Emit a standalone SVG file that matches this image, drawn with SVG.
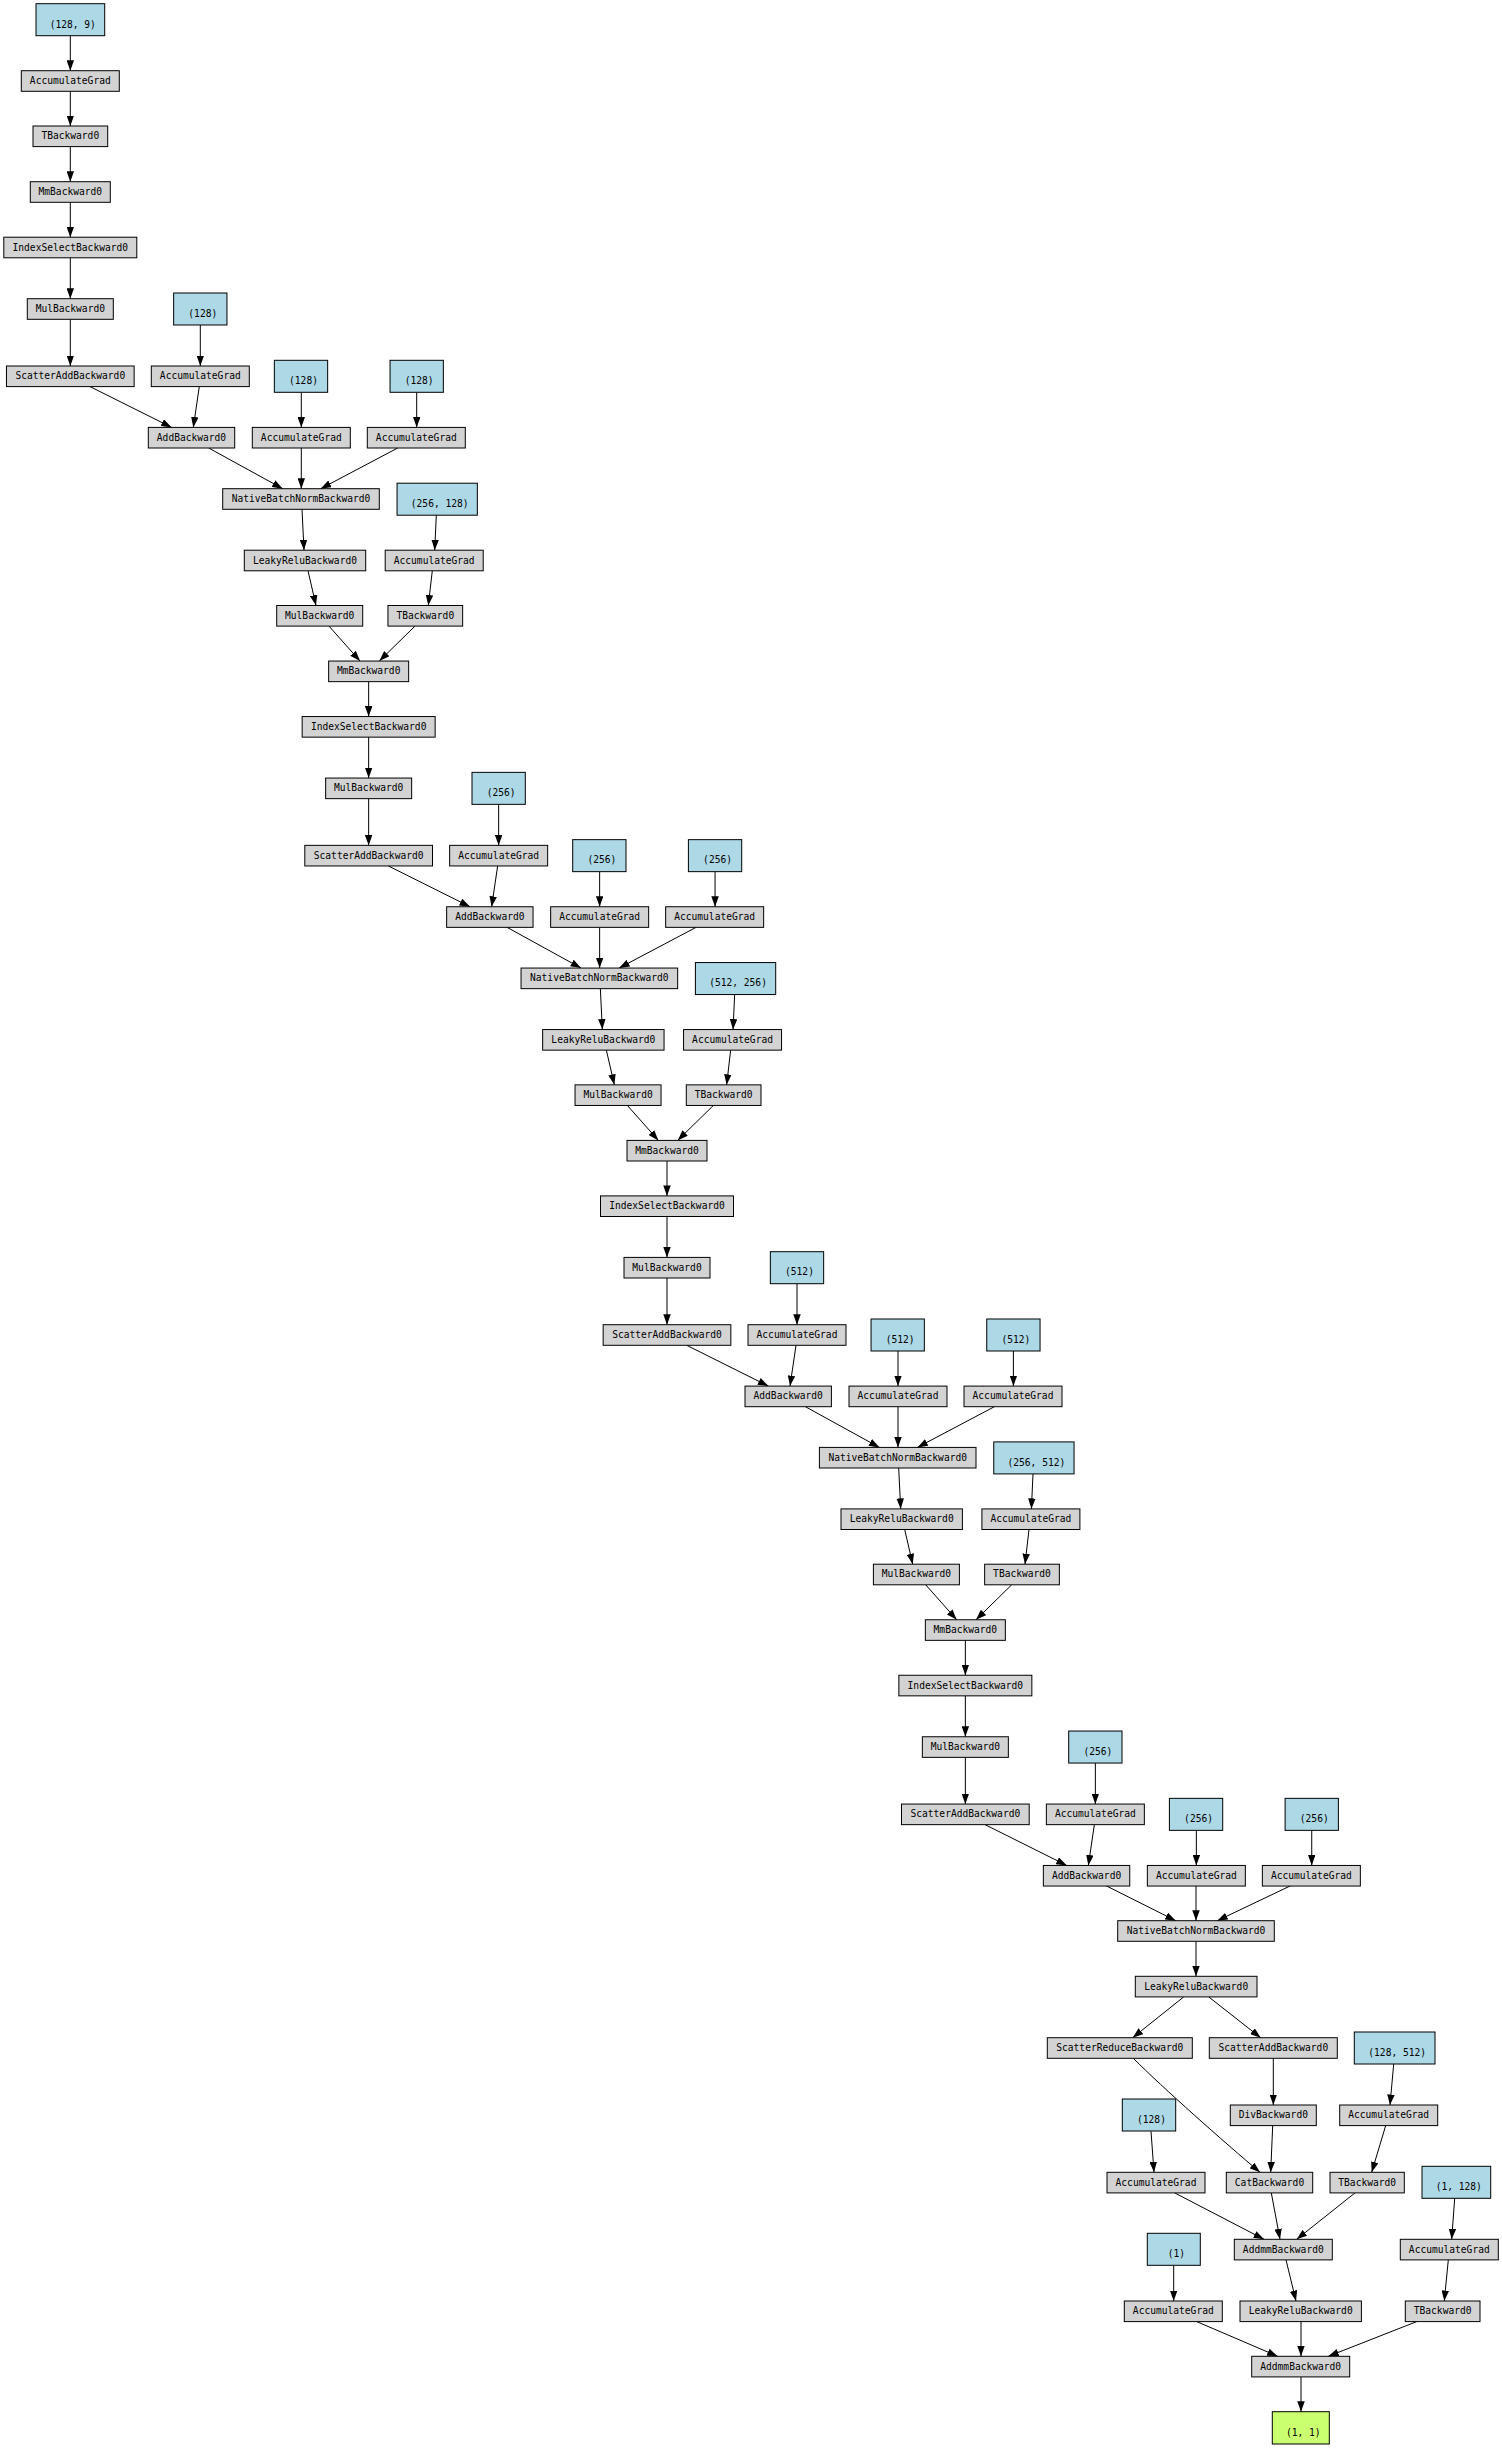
<svg xmlns="http://www.w3.org/2000/svg" width="1502" height="2448" viewBox="0 0 1502 2448">
<defs>
<marker id="a" viewBox="0 0 10.5 7.5" refX="10.5" refY="3.75" markerWidth="10.5" markerHeight="7.5" markerUnits="userSpaceOnUse" orient="auto"><path d="M0,0L10.5,3.75L0,7.5z" fill="#000"/></marker>
<style>
text{font-family:"DejaVu Sans Mono","Liberation Mono",monospace;font-size:9.6px;text-anchor:middle;fill:#000}
.n rect,.p rect,.o rect{stroke:#000;stroke-width:1}
.n rect{fill:#d3d3d3}
.p rect{fill:#add8e6}
.o rect{fill:#caff70}
#edges path{fill:none;stroke:#000;stroke-width:1;marker-end:url(#a)}
</style>
</defs>
<rect x="0" y="0" width="1502" height="2448" fill="#fff"/>

<g id="edges">
<path d="M70.3,35.7L70.3,70.7"/>
<path d="M70.3,91.3L70.3,126"/>
<path d="M70.3,146.6L70.3,181.7"/>
<g transform="translate(70.3,192)">
<path d="M0,10.3L0,45.2"/><path d="M0,65.8L0,106.7"/><path d="M0,127.3L0,174"/>
<path d="M19.7,194.6L101.4,235.4"/><path d="M130,133L130,174"/><path d="M129,194.6L123,235.4"/>
<path d="M231,200.3L231,235.4"/><path d="M346.4,200.3L346.4,235.4"/>
<path d="M138.4,256L212.4,296.7"/><path d="M231,256L231,296.7"/><path d="M327.4,256L250.4,296.7"/>
<path d="M231.7,317.3L233.7,358.2"/><path d="M366,323.2L364.4,358.2"/>
<path d="M237.7,378.8L245.7,413.5"/><path d="M362,378.8L358,413.5"/>
<path d="M258.7,434.1L289.7,469.05"/><path d="M344.7,434.1L309,469.05"/>
</g>
<g transform="translate(368.65,671.35)">
<path d="M0,10.3L0,45.2"/><path d="M0,65.8L0,106.7"/><path d="M0,127.3L0,174"/>
<path d="M19.7,194.6L101.4,235.4"/><path d="M130,133L130,174"/><path d="M129,194.6L123,235.4"/>
<path d="M231,200.3L231,235.4"/><path d="M346.4,200.3L346.4,235.4"/>
<path d="M138.4,256L212.4,296.7"/><path d="M231,256L231,296.7"/><path d="M327.4,256L250.4,296.7"/>
<path d="M231.7,317.3L233.7,358.2"/><path d="M366,323.2L364.4,358.2"/>
<path d="M237.7,378.8L245.7,413.5"/><path d="M362,378.8L358,413.5"/>
<path d="M258.7,434.1L289.7,469.05"/><path d="M344.7,434.1L309,469.05"/>
</g>
<g transform="translate(667,1150.7)">
<path d="M0,10.3L0,45.2"/><path d="M0,65.8L0,106.7"/><path d="M0,127.3L0,174"/>
<path d="M19.7,194.6L101.4,235.4"/><path d="M130,133L130,174"/><path d="M129,194.6L123,235.4"/>
<path d="M231,200.3L231,235.4"/><path d="M346.4,200.3L346.4,235.4"/>
<path d="M138.4,256L212.4,296.7"/><path d="M231,256L231,296.7"/><path d="M327.4,256L250.4,296.7"/>
<path d="M231.7,317.3L233.7,358.2"/><path d="M366,323.2L364.4,358.2"/>
<path d="M237.7,378.8L245.7,413.5"/><path d="M362,378.8L358,413.5"/>
<path d="M258.7,434.1L289.7,469.05"/><path d="M344.7,434.1L309,469.05"/>
</g>
<g transform="translate(965.35,1630.05)">
<path d="M0,10.3L0,45.2"/><path d="M0,65.8L0,106.7"/><path d="M0,127.3L0,174"/>
<path d="M19.7,194.6L101.4,235.4"/><path d="M130,133L130,174"/><path d="M129,194.6L123,235.4"/>
<path d="M231,200.3L231,235.4"/><path d="M346.4,200.3L346.4,235.4"/>
</g>
<path d="M1106,1885.7L1175.7,1920.7"/>
<path d="M1196,1885.7L1196,1920.7"/>
<path d="M1290.7,1885.7L1217.3,1920.7"/>
<path d="M1196,1941.3L1196,1976.3"/>
<path d="M1183.7,1996.9L1132.7,2037.7"/>
<path d="M1208.7,1996.9L1260.7,2037.7"/>
<path d="M1273.3,2058.3L1273.3,2105"/>
<path d="M1393.7,2064L1390,2105"/>
<path d="M1133.3,2058.3C1163,2088 1224,2142 1260,2172.3"/>
<path d="M1151,2131.3L1154,2172.3"/>
<path d="M1272.7,2125.6L1270.7,2172.3"/>
<path d="M1385.7,2125.6L1371.7,2172.3"/>
<path d="M1174.7,2192.9L1264,2239.3"/>
<path d="M1271.3,2192.9L1280,2239.3"/>
<path d="M1355,2192.9L1296.7,2239.3"/>
<path d="M1454.7,2198.3L1451.7,2239.3"/>
<path d="M1173.7,2265.3L1173.7,2301"/>
<path d="M1286,2259.9L1296,2301"/>
<path d="M1448.3,2259.9L1444.3,2301"/>
<path d="M1196.7,2321.6L1277.7,2356.3"/>
<path d="M1301,2321.6L1301,2356.3"/>
<path d="M1416.7,2321.6L1328.3,2356.3"/>
<path d="M1301,2376.9L1301,2411.7"/>
</g>

<g id="nodes">
<g id="in_w0" class="p"><rect x="36" y="3.7" width="68.7" height="32"/><text x="72.8" y="27.5">(128, 9)</text></g>
<g id="acc_w0" class="n"><rect x="21.3" y="70.7" width="98" height="20.6"/><text x="70.3" y="84">AccumulateGrad</text></g>
<g id="t_w0" class="n"><rect x="33" y="126" width="74.7" height="20.6"/><text x="70.3" y="139.3">TBackward0</text></g>

<g id="block0" transform="translate(70.3,192)">
<g id="mm0" class="n"><rect x="-40" y="-10.3" width="80" height="20.6"/><text x="0" y="3">MmBackward0</text></g>
<g id="is0" class="n"><rect x="-66.5" y="45.2" width="133" height="20.6"/><text x="0" y="58.5">IndexSelectBackward0</text></g>
<g id="mul0" class="n"><rect x="-43" y="106.7" width="86" height="20.6"/><text x="0" y="120">MulBackward0</text></g>
<g id="sa0" class="n"><rect x="-63.85" y="174" width="127.7" height="20.6"/><text x="0" y="187.3">ScatterAddBackward0</text></g>
<g id="pa0" class="p"><rect x="103.35" y="101" width="53.3" height="32"/><text x="132.5" y="124.8">(128)</text></g>
<g id="aa0" class="n"><rect x="81" y="174" width="98" height="20.6"/><text x="130" y="187.3">AccumulateGrad</text></g>
<g id="pb0" class="p"><rect x="204.05" y="168.3" width="53.3" height="32"/><text x="233.2" y="192.1">(128)</text></g>
<g id="pc0" class="p"><rect x="319.75" y="168.3" width="53.3" height="32"/><text x="348.9" y="192.1">(128)</text></g>
<g id="add0" class="n"><rect x="78" y="235.4" width="86.4" height="20.6"/><text x="121.2" y="248.7">AddBackward0</text></g>
<g id="ab0" class="n"><rect x="182" y="235.4" width="98" height="20.6"/><text x="231" y="248.7">AccumulateGrad</text></g>
<g id="ac0" class="n"><rect x="297" y="235.4" width="98" height="20.6"/><text x="346" y="248.7">AccumulateGrad</text></g>
<g id="bn0" class="n"><rect x="152.4" y="296.7" width="156.6" height="20.6"/><text x="230.7" y="310">NativeBatchNormBackward0</text></g>
<g id="pw0" class="p"><rect x="326.75" y="291.2" width="80.3" height="32"/><text x="369.4" y="315">(256, 128)</text></g>
<g id="lr0" class="n"><rect x="174" y="358.2" width="121.4" height="20.6"/><text x="234.7" y="371.5">LeakyReluBackward0</text></g>
<g id="ad0" class="n"><rect x="314.9" y="358.2" width="98" height="20.6"/><text x="363.9" y="371.5">AccumulateGrad</text></g>
<g id="mu0" class="n"><rect x="206.4" y="413.5" width="86" height="20.6"/><text x="249.4" y="426.8">MulBackward0</text></g>
<g id="tb0" class="n"><rect x="317.65" y="413.5" width="74.7" height="20.6"/><text x="355" y="426.8">TBackward0</text></g>
</g>

<g id="block1" transform="translate(368.65,671.35)">
<g id="mm1" class="n"><rect x="-40" y="-10.3" width="80" height="20.6"/><text x="0" y="3">MmBackward0</text></g>
<g id="is1" class="n"><rect x="-66.5" y="45.2" width="133" height="20.6"/><text x="0" y="58.5">IndexSelectBackward0</text></g>
<g id="mul1" class="n"><rect x="-43" y="106.7" width="86" height="20.6"/><text x="0" y="120">MulBackward0</text></g>
<g id="sa1" class="n"><rect x="-63.85" y="174" width="127.7" height="20.6"/><text x="0" y="187.3">ScatterAddBackward0</text></g>
<g id="pa1" class="p"><rect x="103.35" y="101" width="53.3" height="32"/><text x="132.5" y="124.8">(256)</text></g>
<g id="aa1" class="n"><rect x="81" y="174" width="98" height="20.6"/><text x="130" y="187.3">AccumulateGrad</text></g>
<g id="pb1" class="p"><rect x="204.05" y="168.3" width="53.3" height="32"/><text x="233.2" y="192.1">(256)</text></g>
<g id="pc1" class="p"><rect x="319.75" y="168.3" width="53.3" height="32"/><text x="348.9" y="192.1">(256)</text></g>
<g id="add1" class="n"><rect x="78" y="235.4" width="86.4" height="20.6"/><text x="121.2" y="248.7">AddBackward0</text></g>
<g id="ab1" class="n"><rect x="182" y="235.4" width="98" height="20.6"/><text x="231" y="248.7">AccumulateGrad</text></g>
<g id="ac1" class="n"><rect x="297" y="235.4" width="98" height="20.6"/><text x="346" y="248.7">AccumulateGrad</text></g>
<g id="bn1" class="n"><rect x="152.4" y="296.7" width="156.6" height="20.6"/><text x="230.7" y="310">NativeBatchNormBackward0</text></g>
<g id="pw1" class="p"><rect x="326.75" y="291.2" width="80.3" height="32"/><text x="369.4" y="315">(512, 256)</text></g>
<g id="lr1" class="n"><rect x="174" y="358.2" width="121.4" height="20.6"/><text x="234.7" y="371.5">LeakyReluBackward0</text></g>
<g id="ad1" class="n"><rect x="314.9" y="358.2" width="98" height="20.6"/><text x="363.9" y="371.5">AccumulateGrad</text></g>
<g id="mu1" class="n"><rect x="206.4" y="413.5" width="86" height="20.6"/><text x="249.4" y="426.8">MulBackward0</text></g>
<g id="tb1" class="n"><rect x="317.65" y="413.5" width="74.7" height="20.6"/><text x="355" y="426.8">TBackward0</text></g>
</g>

<g id="block2" transform="translate(667,1150.7)">
<g id="mm2" class="n"><rect x="-40" y="-10.3" width="80" height="20.6"/><text x="0" y="3">MmBackward0</text></g>
<g id="is2" class="n"><rect x="-66.5" y="45.2" width="133" height="20.6"/><text x="0" y="58.5">IndexSelectBackward0</text></g>
<g id="mul2" class="n"><rect x="-43" y="106.7" width="86" height="20.6"/><text x="0" y="120">MulBackward0</text></g>
<g id="sa2" class="n"><rect x="-63.85" y="174" width="127.7" height="20.6"/><text x="0" y="187.3">ScatterAddBackward0</text></g>
<g id="pa2" class="p"><rect x="103.35" y="101" width="53.3" height="32"/><text x="132.5" y="124.8">(512)</text></g>
<g id="aa2" class="n"><rect x="81" y="174" width="98" height="20.6"/><text x="130" y="187.3">AccumulateGrad</text></g>
<g id="pb2" class="p"><rect x="204.05" y="168.3" width="53.3" height="32"/><text x="233.2" y="192.1">(512)</text></g>
<g id="pc2" class="p"><rect x="319.75" y="168.3" width="53.3" height="32"/><text x="348.9" y="192.1">(512)</text></g>
<g id="add2" class="n"><rect x="78" y="235.4" width="86.4" height="20.6"/><text x="121.2" y="248.7">AddBackward0</text></g>
<g id="ab2" class="n"><rect x="182" y="235.4" width="98" height="20.6"/><text x="231" y="248.7">AccumulateGrad</text></g>
<g id="ac2" class="n"><rect x="297" y="235.4" width="98" height="20.6"/><text x="346" y="248.7">AccumulateGrad</text></g>
<g id="bn2" class="n"><rect x="152.4" y="296.7" width="156.6" height="20.6"/><text x="230.7" y="310">NativeBatchNormBackward0</text></g>
<g id="pw2" class="p"><rect x="326.75" y="291.2" width="80.3" height="32"/><text x="369.4" y="315">(256, 512)</text></g>
<g id="lr2" class="n"><rect x="174" y="358.2" width="121.4" height="20.6"/><text x="234.7" y="371.5">LeakyReluBackward0</text></g>
<g id="ad2" class="n"><rect x="314.9" y="358.2" width="98" height="20.6"/><text x="363.9" y="371.5">AccumulateGrad</text></g>
<g id="mu2" class="n"><rect x="206.4" y="413.5" width="86" height="20.6"/><text x="249.4" y="426.8">MulBackward0</text></g>
<g id="tb2" class="n"><rect x="317.65" y="413.5" width="74.7" height="20.6"/><text x="355" y="426.8">TBackward0</text></g>
</g>

<g id="block3" transform="translate(965.35,1630.05)">
<g id="mm3" class="n"><rect x="-40" y="-10.3" width="80" height="20.6"/><text x="0" y="3">MmBackward0</text></g>
<g id="is3" class="n"><rect x="-66.5" y="45.2" width="133" height="20.6"/><text x="0" y="58.5">IndexSelectBackward0</text></g>
<g id="mul3" class="n"><rect x="-43" y="106.7" width="86" height="20.6"/><text x="0" y="120">MulBackward0</text></g>
<g id="sa3" class="n"><rect x="-63.85" y="174" width="127.7" height="20.6"/><text x="0" y="187.3">ScatterAddBackward0</text></g>
<g id="pa3" class="p"><rect x="103.35" y="101" width="53.3" height="32"/><text x="132.5" y="124.8">(256)</text></g>
<g id="aa3" class="n"><rect x="81" y="174" width="98" height="20.6"/><text x="130" y="187.3">AccumulateGrad</text></g>
<g id="pb3" class="p"><rect x="204.05" y="168.3" width="53.3" height="32"/><text x="233.2" y="192.1">(256)</text></g>
<g id="pc3" class="p"><rect x="319.75" y="168.3" width="53.3" height="32"/><text x="348.9" y="192.1">(256)</text></g>
<g id="add3" class="n"><rect x="78" y="235.4" width="86.4" height="20.6"/><text x="121.2" y="248.7">AddBackward0</text></g>
<g id="ab3" class="n"><rect x="182" y="235.4" width="98" height="20.6"/><text x="231" y="248.7">AccumulateGrad</text></g>
<g id="ac3" class="n"><rect x="297" y="235.4" width="98" height="20.6"/><text x="346" y="248.7">AccumulateGrad</text></g>
</g>

<g id="bn3" class="n"><rect x="1117.7" y="1920.7" width="156.6" height="20.6"/><text x="1196" y="1934">NativeBatchNormBackward0</text></g>
<g id="lr3" class="n"><rect x="1135.3" y="1976.3" width="121.7" height="20.6"/><text x="1196.2" y="1989.6">LeakyReluBackward0</text></g>
<g id="srd" class="n"><rect x="1047.3" y="2037.7" width="145" height="20.6"/><text x="1119.8" y="2051">ScatterReduceBackward0</text></g>
<g id="sad" class="n"><rect x="1209.3" y="2037.7" width="128" height="20.6"/><text x="1273.3" y="2051">ScatterAddBackward0</text></g>
<g id="pw4" class="p"><rect x="1354.3" y="2032" width="80.7" height="32"/><text x="1397.2" y="2055.8">(128, 512)</text></g>
<g id="pb4" class="p"><rect x="1122.3" y="2099" width="53.4" height="32"/><text x="1151.5" y="2122.8">(128)</text></g>
<g id="div" class="n"><rect x="1230.3" y="2105" width="86" height="20.6"/><text x="1273.3" y="2118.3">DivBackward0</text></g>
<g id="aw4" class="n"><rect x="1339.7" y="2105" width="98" height="20.6"/><text x="1388.7" y="2118.3">AccumulateGrad</text></g>
<g id="ab4" class="n"><rect x="1107" y="2172.3" width="98" height="20.6"/><text x="1156" y="2185.6">AccumulateGrad</text></g>
<g id="cat" class="n"><rect x="1226.3" y="2172.3" width="86.4" height="20.6"/><text x="1269.5" y="2185.6">CatBackward0</text></g>
<g id="tw4" class="n"><rect x="1330" y="2172.3" width="74.3" height="20.6"/><text x="1367.2" y="2185.6">TBackward0</text></g>
<g id="pw5" class="p"><rect x="1422" y="2166.3" width="68.7" height="32"/><text x="1458.8" y="2190.1">(1, 128)</text></g>
<g id="addmm1" class="n"><rect x="1234.3" y="2239.3" width="98" height="20.6"/><text x="1283.3" y="2252.6">AddmmBackward0</text></g>
<g id="pb5" class="p"><rect x="1147.3" y="2233.3" width="53" height="32"/><text x="1176.3" y="2257.1">(1)</text></g>
<g id="aw5" class="n"><rect x="1400.3" y="2239.3" width="98" height="20.6"/><text x="1449.3" y="2252.6">AccumulateGrad</text></g>
<g id="ab5" class="n"><rect x="1124.3" y="2301" width="98" height="20.6"/><text x="1173.3" y="2314.3">AccumulateGrad</text></g>
<g id="lr4" class="n"><rect x="1240" y="2301" width="121.4" height="20.6"/><text x="1300.7" y="2314.3">LeakyReluBackward0</text></g>
<g id="tw5" class="n"><rect x="1405.3" y="2301" width="74.7" height="20.6"/><text x="1442.65" y="2314.3">TBackward0</text></g>
<g id="addmm2" class="n"><rect x="1251.7" y="2356.3" width="98" height="20.6"/><text x="1300.7" y="2369.6">AddmmBackward0</text></g>
<g id="out" class="o"><rect x="1272.3" y="2411.7" width="57" height="32.3"/><text x="1303.3" y="2435.6">(1, 1)</text></g>
</g>
</svg>
